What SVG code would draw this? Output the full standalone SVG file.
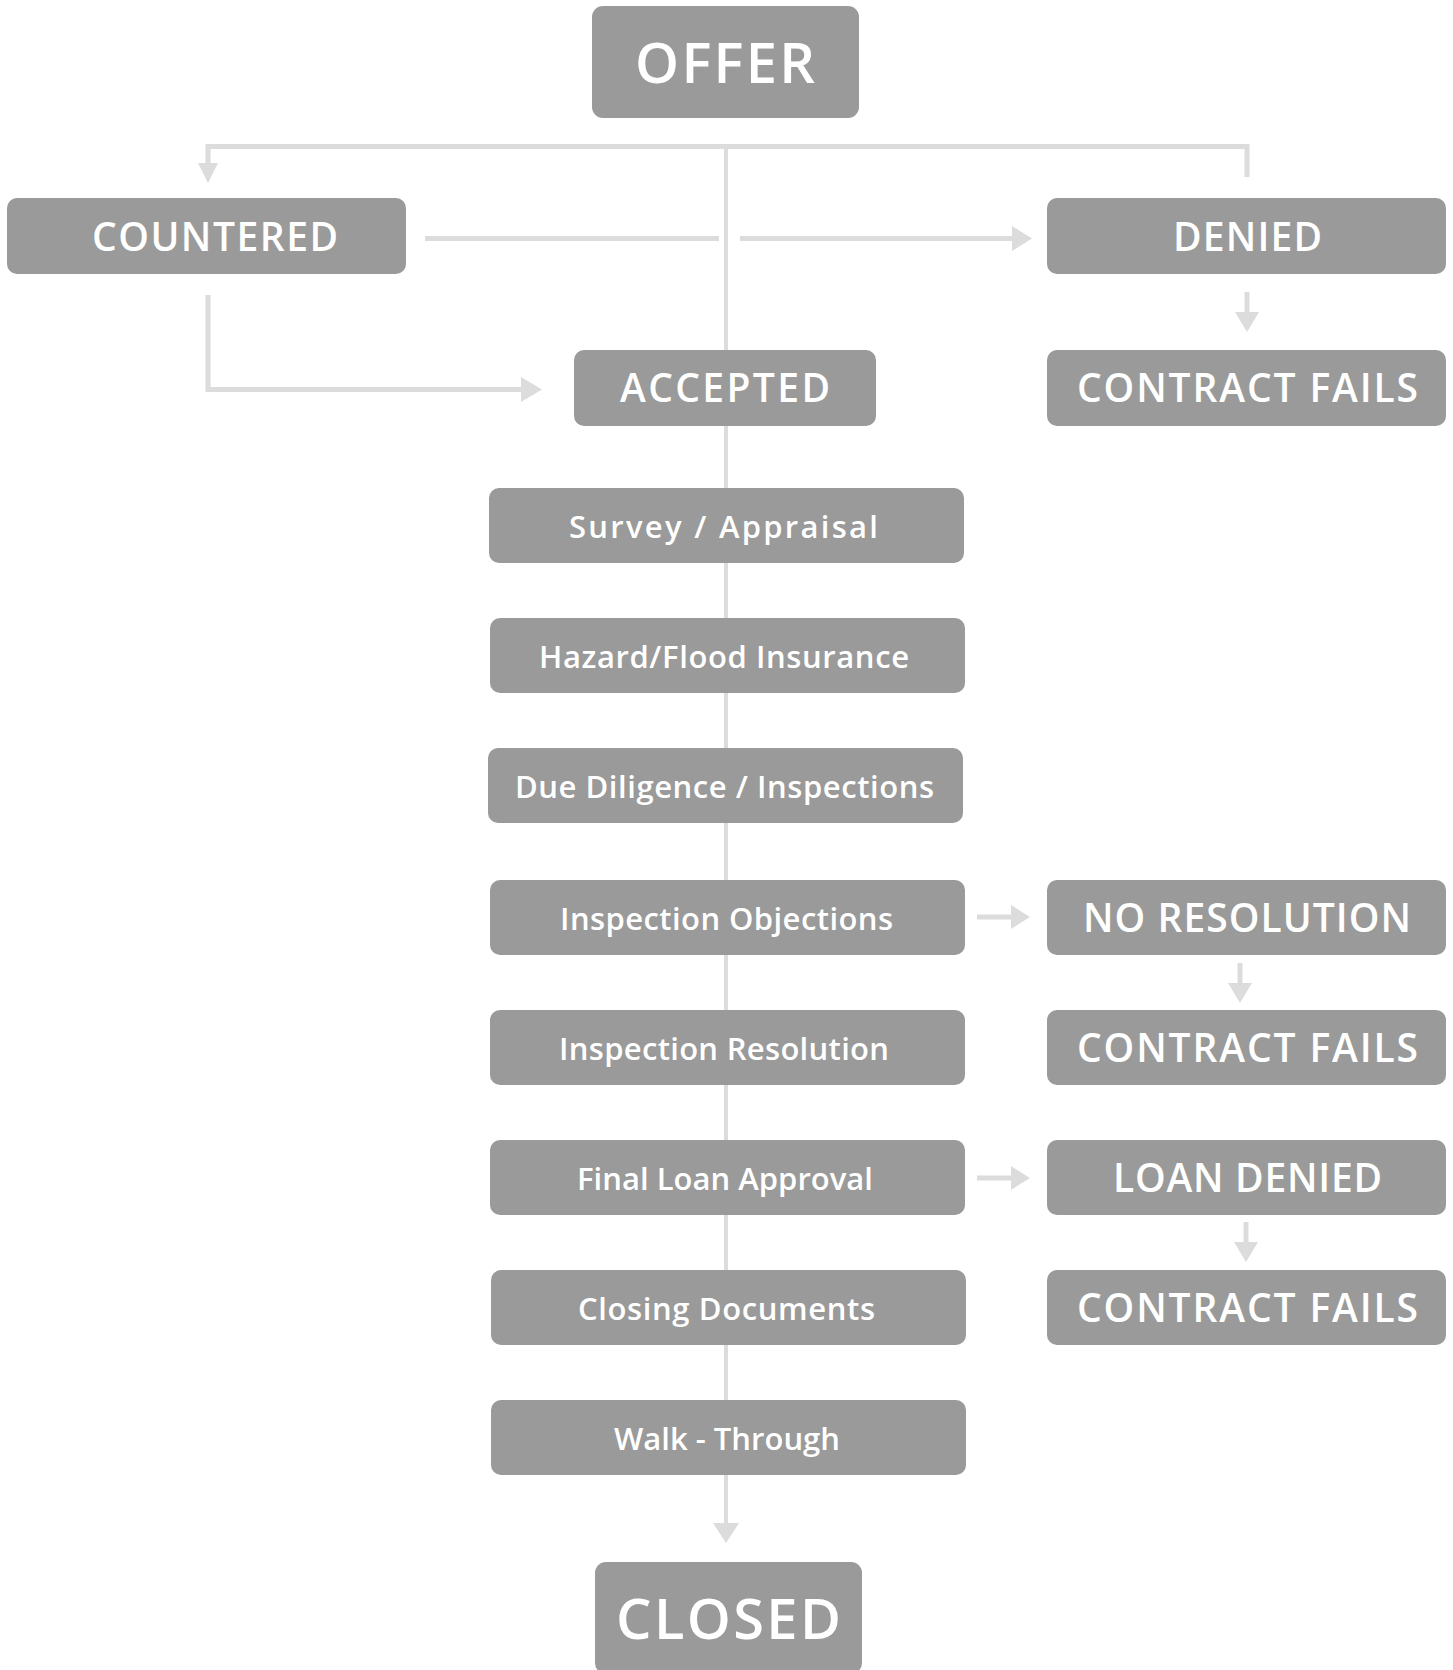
<svg xmlns="http://www.w3.org/2000/svg" width="1453" height="1670" viewBox="0 0 1453 1670">
<defs>
<style>
.box{fill:#999a99}
.cap{font-family:"Open Sans","Liberation Sans",sans-serif;font-weight:600;font-size:39px;fill:#ffffff;text-anchor:middle}
.big{font-family:"Open Sans","Liberation Sans",sans-serif;font-weight:600;font-size:56px;fill:#ffffff;text-anchor:middle}
.mix{font-family:"Open Sans","Liberation Sans",sans-serif;font-weight:600;font-size:31px;fill:#ffffff;text-anchor:middle}
.ln{fill:none;stroke:#dcdcdc;stroke-width:5}
.lnc{fill:none;stroke:#dcdcdc;stroke-width:4}
.ah{fill:#dcdcdc}
</style>
</defs>
<rect width="1453" height="1670" fill="#ffffff"/>
<g id="connectors">
<line class="lnc" x1="726" y1="146" x2="726" y2="1525"/>
<polygon class="ah" points="713,1523 739,1523 726,1543"/>
<polyline class="ln" points="208,163 208,146.5 1247,146.5 1247,177"/>
<polygon class="ah" points="198,163 218,163 208,183"/>
<line class="ln" x1="425" y1="238.5" x2="719" y2="238.5"/>
<line class="ln" x1="740" y1="238.5" x2="1014" y2="238.5"/>
<polygon class="ah" points="1012,226 1012,251 1032,238.5"/>
<polyline class="ln" points="208,295 208,389.5 523,389.5"/>
<polygon class="ah" points="521,377 521,402 542,389.5"/>
<line class="ln" x1="1247" y1="292" x2="1247" y2="314"/>
<polygon class="ah" points="1235,312 1259,312 1247,332"/>
<line class="ln" x1="977" y1="917" x2="1013" y2="917"/>
<polygon class="ah" points="1011,905 1011,929 1030,917"/>
<line class="ln" x1="1240" y1="963" x2="1240" y2="985"/>
<polygon class="ah" points="1228,983 1252,983 1240,1003"/>
<line class="ln" x1="977" y1="1178" x2="1013" y2="1178"/>
<polygon class="ah" points="1011,1166 1011,1190 1030,1178"/>
<line class="ln" x1="1246" y1="1222" x2="1246" y2="1244"/>
<polygon class="ah" points="1234,1242 1258,1242 1246,1262"/>
</g>
<g id="offer"><rect class="box" x="592" y="6" width="267" height="112" rx="11"/><text class="big" x="725" y="83" textLength="180">OFFER</text></g>
<g id="countered"><rect class="box" x="7" y="198" width="399" height="76" rx="10"/><text class="cap" x="215" y="251" textLength="246">COUNTERED</text></g>
<g id="denied"><rect class="box" x="1047" y="198" width="399" height="76" rx="10"/><text class="cap" x="1247.5" y="251" textLength="149">DENIED</text></g>
<g id="accepted"><rect class="box" x="574" y="350" width="302" height="76" rx="10"/><text class="cap" x="725" y="402" textLength="210">ACCEPTED</text></g>
<g id="contract-fails-1"><rect class="box" x="1047" y="350" width="399" height="76" rx="10"/><text class="cap" x="1247.5" y="402" textLength="341">CONTRACT FAILS</text></g>
<g id="survey"><rect class="box" x="489" y="488" width="475" height="75" rx="10"/><text class="mix" x="723.5" y="538" textLength="309">Survey / Appraisal</text></g>
<g id="hazard"><rect class="box" x="490" y="618" width="475" height="75" rx="10"/><text class="mix" x="724" y="668" textLength="370">Hazard/Flood Insurance</text></g>
<g id="due-diligence"><rect class="box" x="488" y="748" width="475" height="75" rx="10"/><text class="mix" x="724.5" y="798" textLength="419">Due Diligence / Inspections</text></g>
<g id="inspection-objections"><rect class="box" x="490" y="880" width="475" height="75" rx="10"/><text class="mix" x="726.5" y="930" textLength="333">Inspection Objections</text></g>
<g id="no-resolution"><rect class="box" x="1047" y="880" width="399" height="75" rx="10"/><text class="cap" x="1247" y="932" textLength="328">NO RESOLUTION</text></g>
<g id="inspection-resolution"><rect class="box" x="490" y="1010" width="475" height="75" rx="10"/><text class="mix" x="724" y="1060" textLength="330">Inspection Resolution</text></g>
<g id="contract-fails-2"><rect class="box" x="1047" y="1010" width="399" height="75" rx="10"/><text class="cap" x="1247.5" y="1062" textLength="341">CONTRACT FAILS</text></g>
<g id="final-loan"><rect class="box" x="490" y="1140" width="475" height="75" rx="10"/><text class="mix" x="725" y="1190" textLength="296">Final Loan Approval</text></g>
<g id="loan-denied"><rect class="box" x="1047" y="1140" width="399" height="75" rx="10"/><text class="cap" x="1247.5" y="1192" textLength="269">LOAN DENIED</text></g>
<g id="closing-documents"><rect class="box" x="491" y="1270" width="475" height="75" rx="10"/><text class="mix" x="726.5" y="1320" textLength="297">Closing Documents</text></g>
<g id="contract-fails-3"><rect class="box" x="1047" y="1270" width="399" height="75" rx="10"/><text class="cap" x="1247.5" y="1322" textLength="341">CONTRACT FAILS</text></g>
<g id="walk-through"><rect class="box" x="491" y="1400" width="475" height="75" rx="10"/><text class="mix" x="727" y="1450" textLength="226">Walk - Through</text></g>
<g id="closed"><rect class="box" x="595" y="1562" width="267" height="112" rx="11"/><text class="big" x="728.5" y="1639" textLength="225">CLOSED</text></g>
</svg>
